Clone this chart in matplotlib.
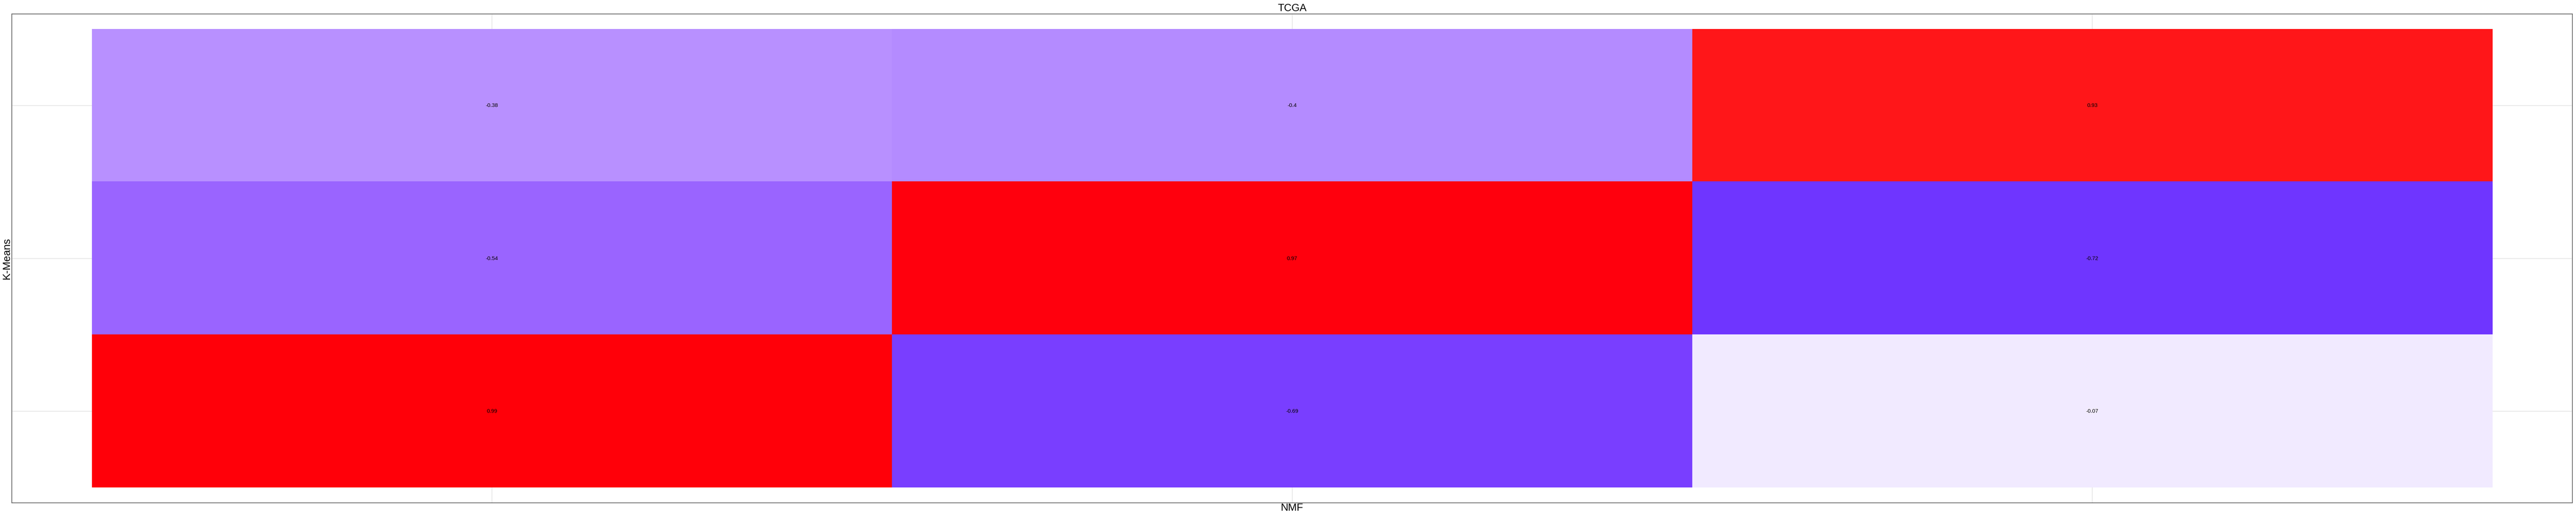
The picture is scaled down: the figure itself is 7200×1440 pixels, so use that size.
import matplotlib.pyplot as plt
import numpy as np
from matplotlib.colors import LinearSegmentedColormap, Normalize

# K-Means (rows, top to bottom) vs NMF (columns)
col_labels = ["0", "1", "2"]
row_labels = ["0", "1", "2"]
row0 = [-0.38, -0.4, 0.93]
row1 = [-0.54, 0.97, -0.72]
row2 = [0.99, -0.69, -0.07]

plt.rcParams['font.family'] = ['Liberation Sans', 'DejaVu Sans']

# purple -> white -> red, value v sits at (v + 1) / 2
cmap = LinearSegmentedColormap.from_list("pw_r", [
    (0.0, (0.35, 0.12, 1.0)),
    (0.14, (0.44, 0.21, 1.0)),
    (0.155, (0.48, 0.25, 1.0)),
    (0.23, (0.61, 0.40, 1.0)),
    (0.30, (0.71, 0.55, 1.0)),
    (0.31, (0.725, 0.565, 1.0)),
    (0.465, (0.945, 0.915, 1.0)),
    (0.5, (1.0, 1.0, 1.0)),
    (0.965, (1.0, 0.11, 0.11)),
    (0.985, (1.0, 0.0, 0.06)),
    (1.0, (1.0, 0.0, 0.03)),
])


def main():
    data = np.array([row0, row1, row2])
    norm = Normalize(vmin=-1, vmax=1)

    fig = plt.figure(figsize=(72, 14.4), dpi=100)
    ax = fig.add_axes([0.0046, 0.0236, 0.994, 0.9493])

    ax.grid(True, color="#e6e6e6", linewidth=1.5, zorder=0)
    ax.set_axisbelow(True)
    ax.imshow(data, cmap=cmap, norm=norm, aspect="auto", zorder=1,
              interpolation="nearest")

    for i in range(data.shape[0]):
        for j in range(data.shape[1]):
            ax.text(j, i, str(data[i][j]), ha="center", va="center",
                    fontsize=11, color="black", zorder=2)

    ax.set_xlim(-0.6, 2.6)
    ax.set_ylim(2.6, -0.6)
    ax.set_xticks(range(len(col_labels)))
    ax.set_yticks(range(len(row_labels)))
    ax.tick_params(length=0, labelbottom=False, labelleft=False)
    for s in ax.spines.values():
        s.set_color("#666666")
        s.set_linewidth(1.5)

    ax.set_title("TCGA", fontsize=21, pad=6)
    ax.set_xlabel("NMF", fontsize=21, labelpad=0)
    ax.set_ylabel("K-Means", fontsize=21, labelpad=0)

    fig.savefig("out.png", dpi=100, facecolor="white")


if __name__ == '__main__':
    main()
